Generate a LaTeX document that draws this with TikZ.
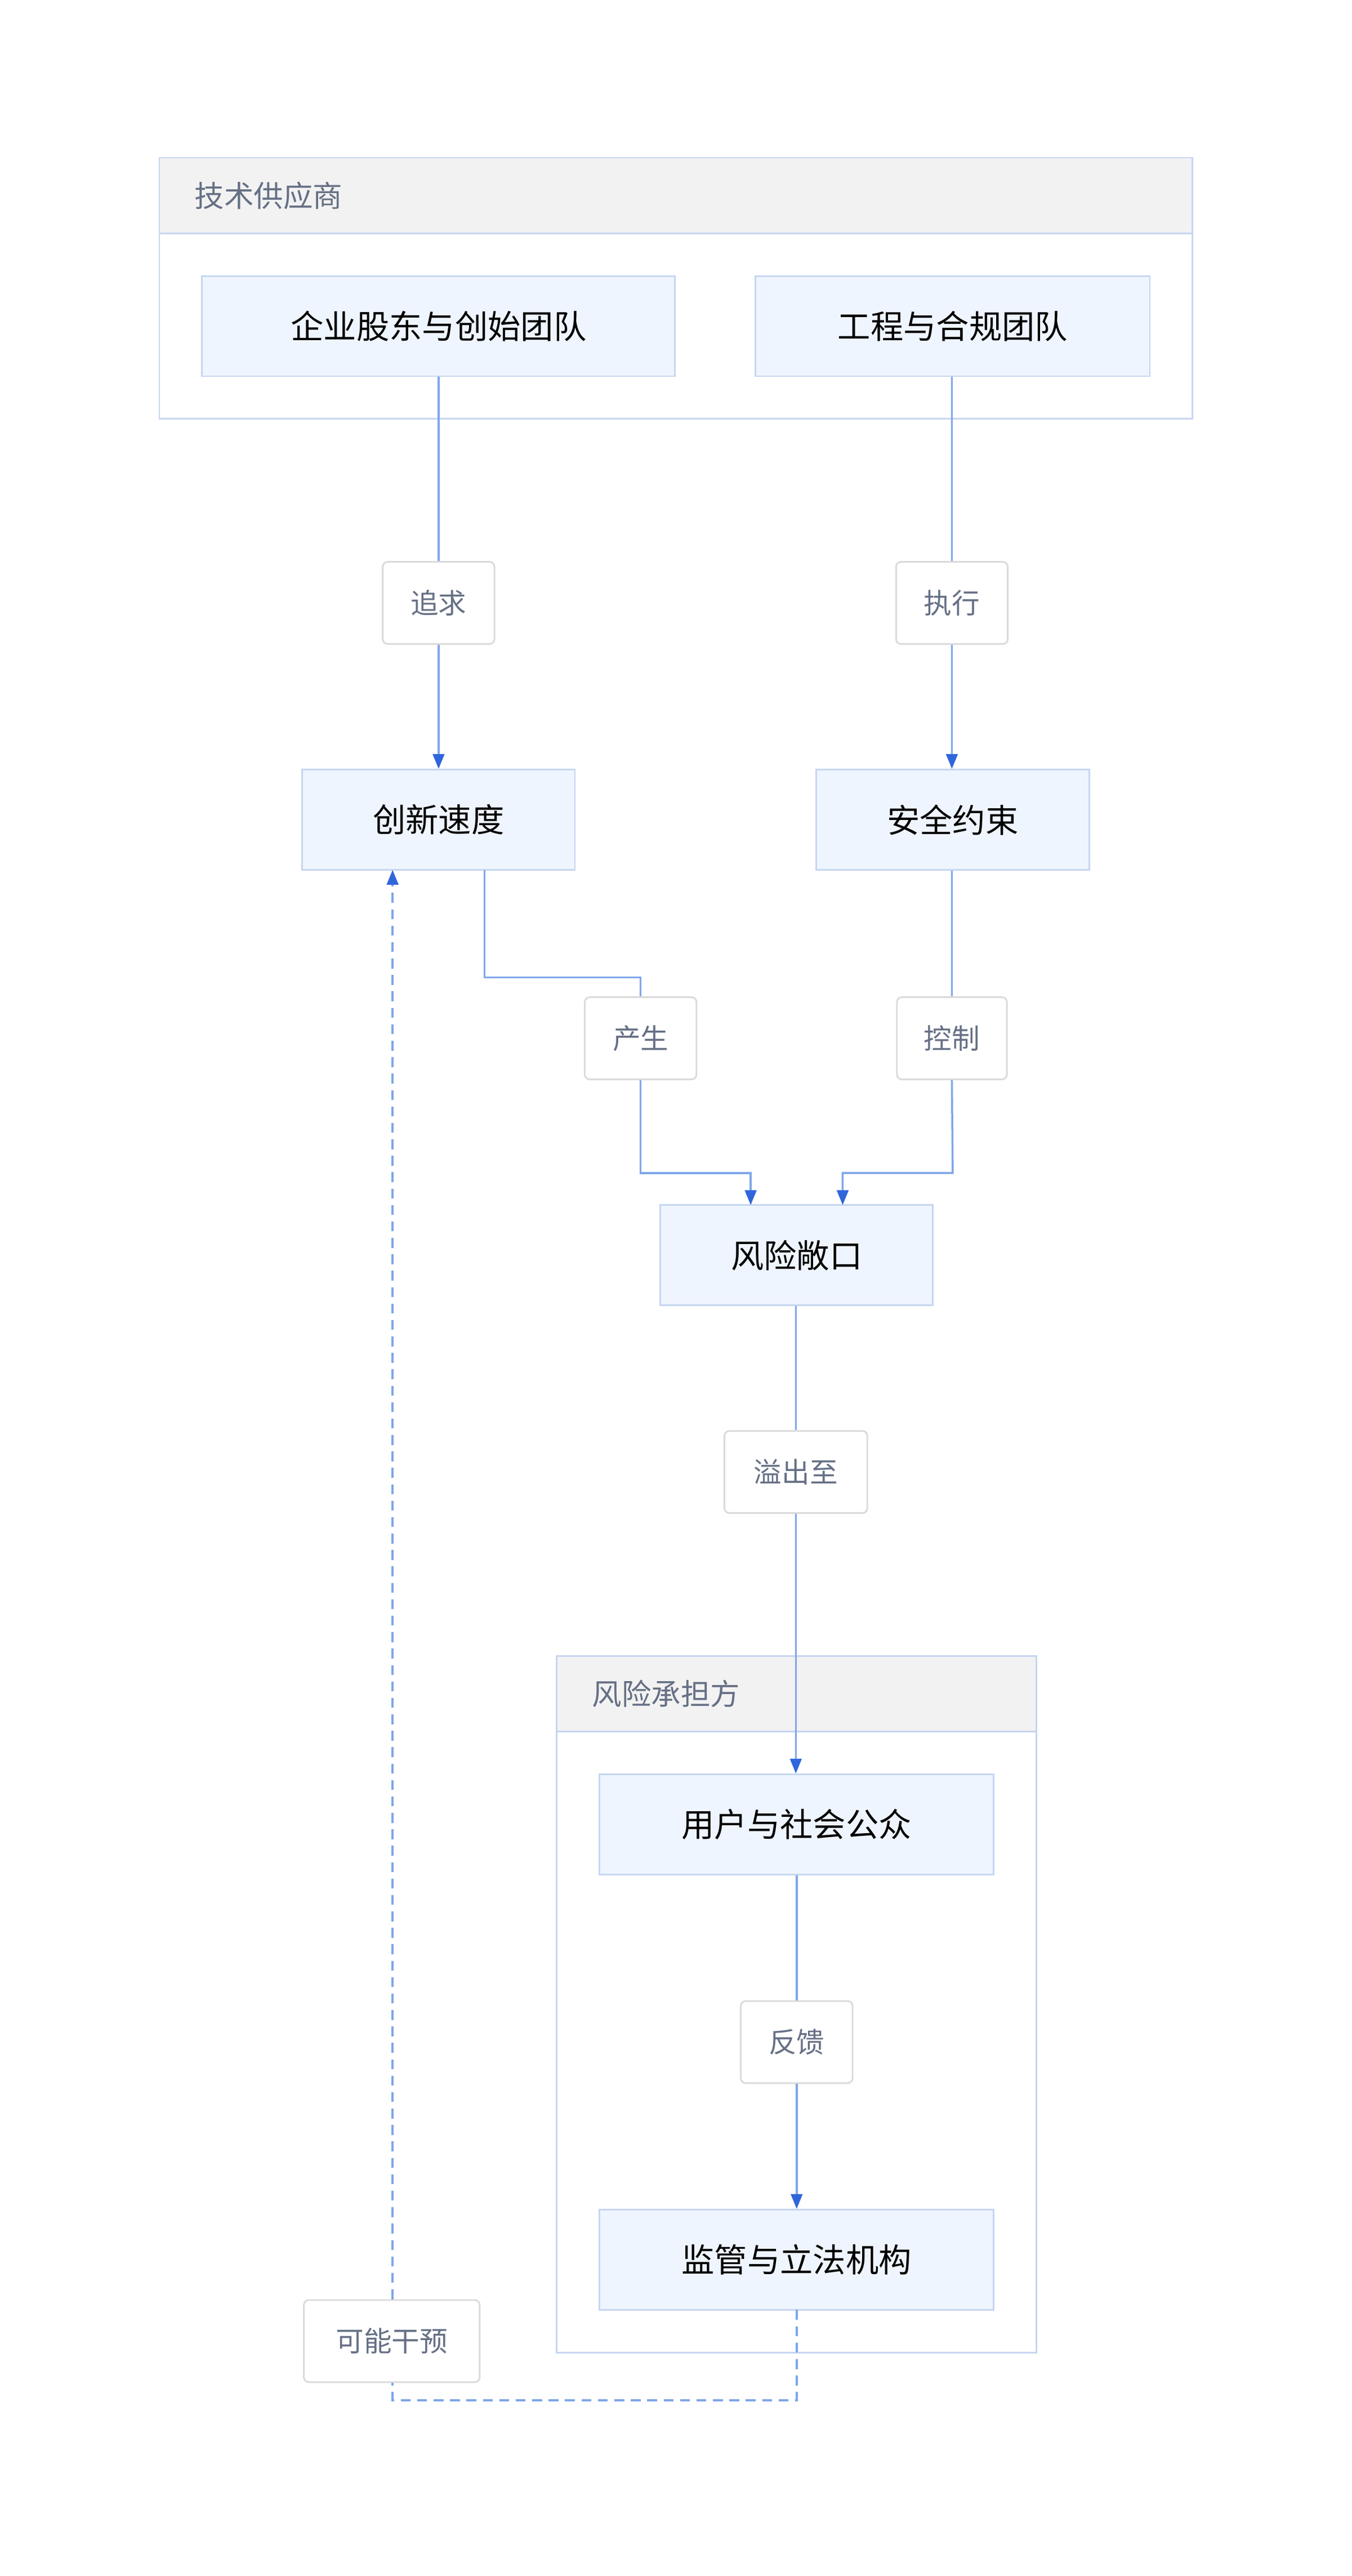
\documentclass[tikz,border=0pt]{standalone}
\usepackage{fontspec}
\newfontfamily\cjk{Noto Sans CJK SC}
\usetikzlibrary{arrows.meta}
\definecolor{nfill}{HTML}{EFF5FE}
\definecolor{nborder}{HTML}{C5D6F1}
\definecolor{gfill}{HTML}{F2F2F2}
\definecolor{ttxt}{HTML}{667085}
\definecolor{lborder}{HTML}{DADADA}
\definecolor{edgec}{HTML}{7FA6EA}
\definecolor{arrc}{HTML}{2F66DC}
\tikzset{
 x=1pt,y=-1pt,
 nd/.style={draw=nborder,fill=nfill,line width=1pt,minimum height=61pt,inner sep=0pt,font=\cjk\fontsize{20}{24}\selectfont,text=black},
 lb/.style={draw=lborder,fill=white,rounded corners=3pt,line width=1pt,minimum height=50pt,inner sep=0pt,font=\cjk\fontsize{17}{20}\selectfont,text=ttxt},
 grp/.style={draw=nborder,line width=1pt},
 ed/.style={draw=edgec,line width=1.2pt},
 ar/.style={ed,-{Triangle[length=9pt,width=7pt,color=arrc]}},
 da/.style={ar,dash pattern=on 6pt off 4pt},
 gt/.style={font=\cjk\fontsize{18}{22}\selectfont,text=ttxt,anchor=west}
}
\begin{document}
\begin{tikzpicture}
\useasboundingbox (0,0) rectangle (823,1568);
% groups
\filldraw[grp,fill=white] (97,96) rectangle (726,255);
\filldraw[grp,fill=gfill] (97,96) rectangle (726,142);
\node[gt] (g1) at (115,119) {技术供应商};
\filldraw[grp,fill=white] (339,1008) rectangle (631,1432);
\filldraw[grp,fill=gfill] (339,1008) rectangle (631,1054);
\node[gt] (g2) at (357,1031) {风险承担方};
% nodes
\node[nd,minimum width=288pt] (A) at (267,198.5) {企业股东与创始团队};
\node[nd,minimum width=240pt] (B) at (580,198.5) {工程与合规团队};
\node[nd,minimum width=166pt] (C) at (267,499) {创新速度};
\node[nd,minimum width=166pt] (D) at (580,499) {安全约束};
\node[nd,minimum width=166pt] (E) at (485,764) {风险敞口};
\node[nd,minimum width=240pt] (F) at (485,1110.5) {用户与社会公众};
\node[nd,minimum width=240pt] (G) at (485,1375.5) {监管与立法机构};
% labels
\node[lb,minimum width=68pt] (l1) at (267,367) {追求};
\node[lb,minimum width=68pt] (l2) at (579.5,367) {执行};
\node[lb,minimum width=68pt] (l3) at (390,632) {产生};
\node[lb,minimum width=67pt] (l4) at (579.5,632) {控制};
\node[lb,minimum width=87pt] (l5) at (484.5,896) {溢出至};
\node[lb,minimum width=68pt] (l6) at (485,1243) {反馈};
\node[lb,minimum width=107pt] (l7) at (238.5,1425) {可能干预};
% coordinates
\coordinate (c1) at (295,529.5);
\coordinate (c2) at (295,595);
\coordinate (c3) at (390,595);
\coordinate (c4) at (390,714);
\coordinate (c5) at (457,714);
\coordinate (c6) at (457,733.5);
\coordinate (d1) at (580,714);
\coordinate (d2) at (513,714);
\coordinate (d3) at (513,733.5);
\coordinate (g0) at (485,1406);
\coordinate (q1) at (485,1461);
\coordinate (q2) at (239,1461);
\coordinate (q3) at (239,529.5);
% edges
\draw[ed] (A.south) -- (l1.north);
\draw[ar] (l1.south) -- (C.north);
\draw[ed] (B.south-|l2) -- (l2.north);
\draw[ar] (l2.south) -- (D.north-|l2);
\draw[ed] (c1) -- (c2) -- (c3) -- (l3.north);
\draw[ar] (l3.south) -- (c4) -- (c5) -- (c6);
\draw[ed] (D.south-|l4) -- (l4.north);
\draw[ar] (l4.south) -- (d1) -- (d2) -- (d3);
\draw[ed] (E.south-|l5) -- (l5.north);
\draw[ar] (l5.south) -- (F.north-|l5);
\draw[ed] (F.south) -- (l6.north);
\draw[ar] (l6.south) -- (G.north);
\draw[ed,dash pattern=on 6pt off 4pt] (g0) -- (q1) -- (q2) -- (l7.south-|q2);
\draw[da] (l7.north-|q2) -- (q3);
\end{tikzpicture}
\end{document}
